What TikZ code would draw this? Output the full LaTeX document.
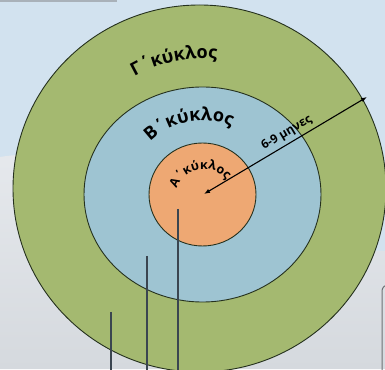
\documentclass[tikz,border=0pt]{standalone}
\usepackage{fontspec}
\setmainfont{Open Sans}
\usetikzlibrary{shapes.geometric,arrows.meta,decorations.text}
\definecolor{sky}{HTML}{D2E2EF}
\definecolor{snowlt}{HTML}{E6E9ED}
\definecolor{snowdk}{HTML}{D5D9DE}
\definecolor{graybar}{HTML}{A9B1B9}
\definecolor{ringC}{HTML}{A4B970}
\definecolor{ringB}{HTML}{9EC4D2}
\definecolor{ringA}{HTML}{EEA873}
\definecolor{edgecol}{HTML}{25311E}
\definecolor{pointercol}{HTML}{3A4550}
\definecolor{boxcol}{HTML}{6E7275}
\begin{document}
\begin{tikzpicture}[x=1pt,y=1pt,
  ring/.style={ellipse, draw=edgecol, line width=0.9pt, inner sep=0pt},
  ringtext/.style={decorate, decoration={text along path, text align=center, text color=black}},
  pointer/.style={draw=pointercol, line width=1.2pt},
  tipstyle/.style={line width=1.1pt, {Latex[length=6pt,width=4.5pt]}-{Latex[length=6pt,width=4.5pt]}}]
\useasboundingbox (0,0) rectangle (385,369);
\clip (0,0) rectangle (385,369);
% background
\fill[sky] (0,0) rectangle (385,369);
\shade[top color=snowlt, bottom color=snowdk] (0,0) -- (0,212) .. controls (60,222) and (120,200) .. (200,170) .. controls (280,140) and (330,120) .. (385,118) -- (385,0) -- cycle;
\fill[graybar] (0,367.3) rectangle (117,369);
% box corner at right edge
\draw[boxcol, line width=1pt] (382,-1) -- (382,78) arc[start angle=180, end angle=90, radius=6];
% rings
\node[ring, fill=ringC, minimum width=373pt, minimum height=367pt] (gamma) at (199.5,180.5) {};
\node[ring, fill=ringB, minimum width=237pt, minimum height=215pt] (beta) at (202.5,174.5) {};
\node[ring, fill=ringA, minimum width=107pt, minimum height=103pt] (alpha) at (202.5,174.5) {};
\coordinate (ctr) at (202.5,174.5);
\coordinate (actr) at (204,171);
% ring labels
\path[ringtext, decoration={text={|\fontsize{18}{18}\selectfont\bfseries|Γ΄κύκλος}}]
  ([shift={(138:136)}]ctr) arc[start angle=138, end angle=66, radius=136];
\path[ringtext, decoration={text={|\fontsize{18}{18}\selectfont\bfseries|Β΄κύκλος}}]
  ([shift={(155:74)}]ctr) arc[start angle=155, end angle=47, radius=74];
\path[ringtext, decoration={text={|\fontsize{12.5}{12.5}\selectfont\bfseries|Α΄κύκλος}}]
  ([shift={(180:29)}]actr) arc[start angle=180, end angle=20, radius=29];
% radius arrow
\coordinate (hub) at (204,175);
\coordinate (rim) at (367,272);
\draw[tipstyle] (hub) -- node[sloped, above=0.5pt, pos=0.54, font=\bfseries\fontsize{12}{12}\selectfont]{6-9 μηνες} (rim);
% pointer lines
\coordinate (pA) at (178,160); \coordinate (pAe) at (178,-1);
\coordinate (pB) at (147,113); \coordinate (pBe) at (147,-1);
\coordinate (pC) at (111,57);  \coordinate (pCe) at (111,-1);
\draw[pointer] (pA) -- (pAe);
\draw[pointer] (pB) -- (pBe);
\draw[pointer] (pC) -- (pCe);
\end{tikzpicture}
\end{document}
